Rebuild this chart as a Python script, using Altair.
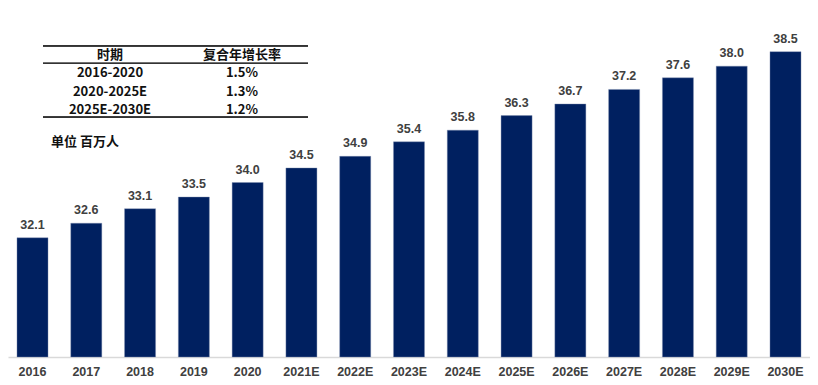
import altair as alt
import pandas as pd

years = ["2016", "2017", "2018", "2019", "2020", "2021E", "2022E", "2023E",
         "2024E", "2025E", "2026E", "2027E", "2028E", "2029E", "2030E"]
values = [32.1, 32.6, 33.1, 33.5, 34.0, 34.5, 34.9, 35.4,
          35.8, 36.3, 36.7, 37.2, 37.6, 38.0, 38.5]

table_header = ["时期", "复合年增长率"]
periods = ["2016-2020", "2020-2025E", "2025E-2030E"]
cagr = ["1.5%", "1.3%", "1.2%"]
unit_note = "单位 百万人"

Y_MIN, Y_MAX = 28, 40

df = pd.DataFrame({"year": years, "value": values})
df["label"] = [f"{v:.1f}" for v in values]

tbl = pd.DataFrame({
    "row": list(range(len(periods) + 1)),
    "c1": [table_header[0]] + periods,
    "c2": [table_header[1]] + cagr,
})

LABEL_FONT = "Liberation Sans"
CJK_FONT = "Noto Sans CJK SC"
GRAY = "#404040"
NAVY = "#002060"

xenc = alt.X("year:N", sort=years, title=None,
             scale=alt.Scale(paddingInner=0.423, paddingOuter=0.167),
             axis=alt.Axis(labelAngle=0, labelFont=LABEL_FONT, labelFontSize=12.5,
                           labelFontWeight="bold", labelColor=GRAY, ticks=False,
                           domainColor="#D9D9D9", domainWidth=1.5, labelPadding=8,
                           grid=False))
yscale = alt.Scale(domain=[Y_MIN, Y_MAX], zero=False, nice=False, clamp=True)
yenc = alt.Y("value:Q", scale=yscale, axis=None, title=None)

bars = alt.Chart(df).mark_bar(color=NAVY, stroke="#8090B0", strokeWidth=0.4).encode(
    x=xenc, y=yenc, y2=alt.datum(Y_MIN))

labels = alt.Chart(df).mark_text(font=LABEL_FONT, fontSize=12.5, fontWeight="bold",
                                 color=GRAY, baseline="middle", dy=-13).encode(
    x=alt.X("year:N", sort=years), y=yenc, text="label:N")

ytab = alt.Y("row:Q", scale=alt.Scale(domain=[0, 3], range=[47, 102]), axis=None, title=None)

col1 = alt.Chart(tbl).mark_text(font=CJK_FONT, fontSize=13, fontWeight="bold",
                                color="#111111", align="center", baseline="middle").encode(
    x=alt.value(102), y=ytab, text="c1:N")
col2 = alt.Chart(tbl).mark_text(font=CJK_FONT, fontSize=13, fontWeight="bold",
                                color="#111111", align="center", baseline="middle").encode(
    x=alt.value(234), y=ytab, text="c2:N")

rule_top = alt.Chart(tbl).mark_rule(color="#333333", strokeWidth=1.6).encode(
    x=alt.value(35), x2=alt.value(300), y=alt.value(37.7))
rule_mid = alt.Chart(tbl).mark_rule(color="#333333", strokeWidth=1.2).encode(
    x=alt.value(35), x2=alt.value(300), y=alt.value(55.3))
rule_bot = alt.Chart(tbl).mark_rule(color="#333333", strokeWidth=1.6).encode(
    x=alt.value(35), x2=alt.value(300), y=alt.value(109.3))

unit = alt.Chart(pd.DataFrame({"t": [unit_note]})).mark_text(
    font=CJK_FONT, fontSize=13, fontWeight="bold", color="#111111",
    align="left", baseline="middle").encode(
    x=alt.value(43), y=alt.value(133.7), text="t:N")

chart = alt.layer(bars, labels, rule_top, rule_mid, rule_bot, col1, col2, unit).resolve_scale(
    y="independent"
).properties(
    width=802, height=349,
    autosize=alt.AutoSizeParams(type="none"),
    padding={"left": 0, "top": 0, "right": 0, "bottom": 24},
).configure_view(stroke=None)

chart.save("out.html", embed_options={"renderer": "svg", "actions": False})
